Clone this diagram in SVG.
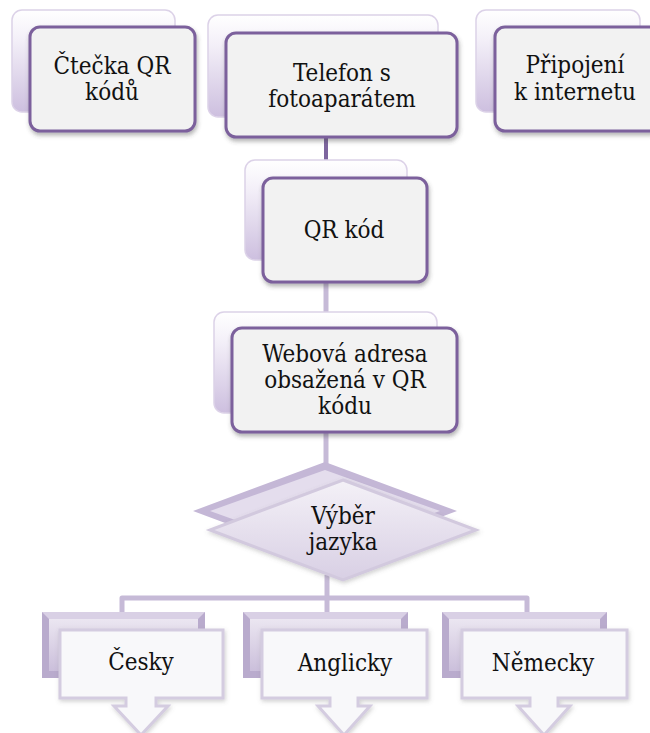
<svg xmlns="http://www.w3.org/2000/svg" width="650" height="733" viewBox="0 0 650 733">
  <defs>
    <style>
      .lbl { font-family: 'DejaVu Serif', serif; font-stretch: condensed; font-size: 24px; fill: #111; text-anchor: middle; }
      .back { fill: url(#gloss); stroke: #dcd2e8; stroke-width: 1.5; }
      .front { fill: #f2f2f2; stroke: #7b619c; stroke-width: 3; filter: url(#shadow); }
      .link-dark { stroke: #7d659e; stroke-width: 4; fill: none; }
      .link { stroke: #c6bad7; stroke-width: 5; fill: none; stroke-linejoin: round; stroke-linecap: butt; }
      .bevel-out { fill: #b9abcd; }
      .bevel-top { fill: #d9d0e5; }
      .bevel-face { fill: url(#face); }
      .callout { fill: #f8f8fa; stroke: #d4cce0; stroke-width: 3; filter: url(#shadow2); }
    </style>
    <linearGradient id="gloss" x1="0" y1="0" x2="0" y2="1">
      <stop offset="0" stop-color="#ffffff"/>
      <stop offset="0.3" stop-color="#f3eff8"/>
      <stop offset="1" stop-color="#cdbfdf"/>
    </linearGradient>
    <linearGradient id="face" x1="0" y1="0" x2="0" y2="1">
      <stop offset="0" stop-color="#ebe6f1"/>
      <stop offset="1" stop-color="#cbbfdb"/>
    </linearGradient>
    <linearGradient id="dface" x1="0" y1="0" x2="0" y2="1">
      <stop offset="0" stop-color="#f4f1f7"/>
      <stop offset="1" stop-color="#d8cfe4"/>
    </linearGradient>
    <filter id="shadow" x="-10%" y="-10%" width="125%" height="135%">
      <feDropShadow dx="1" dy="3" stdDeviation="2" flood-color="#444" flood-opacity="0.4"/>
    </filter>
    <filter id="shadow2" x="-10%" y="-10%" width="125%" height="135%">
      <feDropShadow dx="1" dy="2" stdDeviation="2" flood-color="#666" flood-opacity="0.3"/>
    </filter>
  </defs>

  <rect x="0" y="0" width="650" height="733" fill="#ffffff"/>

  <!-- connectors -->
  <g id="connectors">
    <line class="link-dark" x1="326" y1="135" x2="326" y2="162"/>
    <line class="link" x1="326" y1="280" x2="326" y2="314"/>
    <line class="link" x1="326" y1="430" x2="326" y2="465"/>
    <line class="link" x1="327" y1="575" x2="327" y2="614"/>
    <path class="link" d="M122 614 V598 H527 V614"/>
  </g>

  <!-- top row -->
  <g id="node-ctecka">
    <rect class="back" x="12" y="10" width="163" height="102" rx="10"/>
    <rect class="front" x="30" y="27" width="165" height="104" rx="10"/>
    <text class="lbl" x="112" y="74">Čtečka QR</text>
    <text class="lbl" x="112" y="100">kódů</text>
  </g>

  <g id="node-telefon">
    <rect class="back" x="208" y="15" width="230" height="102" rx="10"/>
    <rect class="front" x="226" y="33" width="231" height="104" rx="10"/>
    <text class="lbl" x="342" y="81">Telefon s</text>
    <text class="lbl" x="342" y="107">fotoaparátem</text>
  </g>

  <g id="node-pripojeni">
    <rect class="back" x="476" y="10" width="164" height="102" rx="10"/>
    <rect class="front" x="495" y="27" width="165" height="104" rx="10"/>
    <text class="lbl" x="575" y="73">Připojení</text>
    <text class="lbl" x="575" y="100">k internetu</text>
  </g>

  <!-- QR code -->
  <g id="node-qr">
    <rect class="back" x="245" y="160" width="162" height="100" rx="10"/>
    <rect class="front" x="263" y="178" width="164" height="104" rx="10"/>
    <text class="lbl" x="344" y="238">QR kód</text>
  </g>

  <!-- web address -->
  <g id="node-web">
    <rect class="back" x="214" y="312" width="223" height="101" rx="10"/>
    <rect class="front" x="232" y="328" width="225" height="104" rx="10"/>
    <text class="lbl" x="345" y="362">Webová adresa</text>
    <text class="lbl" x="345" y="388">obsažená v QR</text>
    <text class="lbl" x="345" y="414">kódu</text>
  </g>

  <!-- language decision -->
  <g id="node-vyber">
    <polygon fill="#c4b7d6" points="325,462 457,511 325,560 193,511"/>
    <polygon fill="#e4dded" points="325,470 440,511 325,552 210,511"/>
    <polygon fill="url(#dface)" stroke="#d2c9de" stroke-width="3" filter="url(#shadow2)" points="343,480 476,530 343,580 210,530"/>
    <text class="lbl" x="343" y="524">Výběr</text>
    <text class="lbl" x="343" y="550">jazyka</text>
  </g>

  <!-- languages -->
  <g id="node-cesky">
    <rect class="bevel-out" x="42" y="612" width="163" height="66"/>
    <polygon class="bevel-top" points="42,612 205,612 198,619 49,619"/>
    <rect class="bevel-face" x="49" y="619" width="149" height="52"/>
    <path class="callout" d="M60 630 H223 V698 H156 V706 H168 L141 735 L114 706 H126 V698 H60 Z"/>
    <text class="lbl" x="141" y="670">Česky</text>
  </g>

  <g id="node-anglicky">
    <rect class="bevel-out" x="243" y="612" width="165" height="66"/>
    <polygon class="bevel-top" points="243,612 408,612 401,619 250,619"/>
    <rect class="bevel-face" x="250" y="619" width="151" height="52"/>
    <path class="callout" d="M262 630 H427 V698 H358 V706 H370 L344 735 L318 706 H330 V698 H262 Z"/>
    <text class="lbl" x="345" y="671">Anglicky</text>
  </g>

  <g id="node-nemecky">
    <rect class="bevel-out" x="442" y="612" width="165" height="66"/>
    <polygon class="bevel-top" points="442,612 607,612 600,619 449,619"/>
    <rect class="bevel-face" x="449" y="619" width="151" height="52"/>
    <path class="callout" d="M462 630 H627 V698 H558 V706 H570 L544 735 L518 706 H530 V698 H462 Z"/>
    <text class="lbl" x="543" y="671">Německy</text>
  </g>
</svg>
